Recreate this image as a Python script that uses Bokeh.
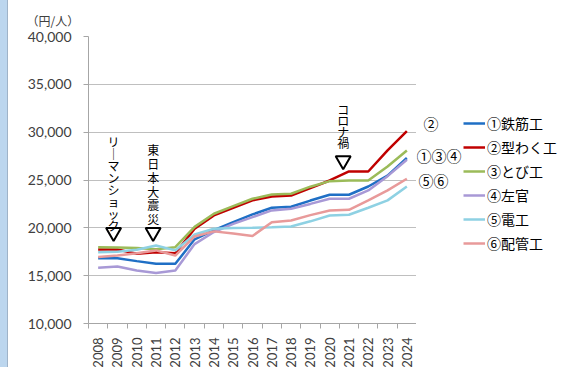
import math
from bokeh.plotting import figure
from bokeh.layouts import row
from bokeh.models import (Range1d, FixedTicker, Label, Legend, LegendItem,
                          NumeralTickFormatter, ColumnDataSource, Div)
from bokeh.embed import file_html
from bokeh.resources import INLINE

years = list(range(2008, 2025))

tekkin   = [16830, 16830, 16520, 16240, 16240, 18800, 19750, 20600, 21400, 22100, 22200, 22850, 23460, 23460, 24320, 25450, 27300]
katawaku = [17740, 17740, 17290, 17460, 17350, 19900, 21300, 22100, 22870, 23280, 23380, 24150, 24950, 25890, 25890, 28090, 30100]
tobi     = [17980, 17950, 17900, 17750, 17980, 20100, 21470, 22270, 23040, 23490, 23560, 24300, 24880, 24950, 24950, 26420, 28090]
sakan    = [15830, 15960, 15550, 15270, 15550, 18300, 19560, 20420, 21120, 21820, 22000, 22500, 23040, 23040, 23910, 25400, 27120]
denko    = [17460, 17500, 17700, 18160, 17640, 19300, 19900, 19970, 20010, 20070, 20140, 20680, 21290, 21370, 22100, 22870, 24320]
haikan   = [16950, 17100, 17350, 17640, 17100, 19100, 19630, 19400, 19150, 20590, 20770, 21330, 21820, 21890, 22870, 23910, 25130]

names  = ["①鉄筋工", "②型わく工", "③とび工", "④左官", "⑤電工", "⑥配管工"]
series = [tekkin, katawaku, tobi, sakan, denko, haikan]
colors = ["#1F6FC5", "#C00000", "#9BBB59", "#A899D6", "#8ED1E3", "#E89A9A"]

y_ticks = [10000, 15000, 20000, 25000, 30000, 35000, 40000]

events = ["リ｜マンショック", "東日本大震災", "コロナ禍"]
event_x = [2008.8, 2010.85, 2020.7]
event_text_top = [29950, 29050, 33300]
event_marker_y = [19520, 19520, 27040]
event_line_height = [0.71, 0.81, 0.66]

end_labels = ["②", "①③④", "⑤⑥"]
end_y = [30910, 27560, 24950]

JP = "Noto Sans CJK JP"
NUM = "Lato"

FRAME_H = 287
TOP, BOTTOM = 36, 44
STRIP = 8

p = figure(frame_width=328, frame_height=FRAME_H,
           min_border_left=88 - STRIP, min_border_right=0,
           min_border_top=TOP, min_border_bottom=BOTTOM,
           x_range=Range1d(2007.5, 2024.5), y_range=Range1d(10000, 40000),
           output_backend="svg", toolbar_location=None)
p.outline_line_color = None
p.border_fill_color = "white"

# unit label as title
p.title.text = "（円/人）"
p.title.align = "left"
p.title.offset = -62
p.title.standoff = 16
p.title.text_font = JP
p.title.text_font_size = "12px"
p.title.text_font_style = "normal"
p.title.text_color = "#404040"

# axes
p.yaxis.ticker = FixedTicker(ticks=y_ticks)
p.yaxis.formatter = NumeralTickFormatter(format="0,0")
p.yaxis.axis_line_color = "#A6A6A6"
p.yaxis.major_tick_line_color = "#A6A6A6"
p.yaxis.major_tick_out = 5
p.yaxis.major_tick_in = 0
p.yaxis.minor_tick_line_color = None
p.yaxis.major_label_standoff = 12
p.yaxis.major_label_text_font = NUM
p.yaxis.major_label_text_font_size = "14px"
p.yaxis.major_label_text_color = "#404040"

p.xaxis.ticker = FixedTicker(ticks=years, minor_ticks=[y - 0.5 for y in years] + [years[-1] + 0.5])
p.xaxis.major_label_overrides = {y: str(y) for y in years}
p.xaxis.major_label_orientation = math.pi / 2
p.xaxis.axis_line_color = "#A6A6A6"
p.xaxis.major_tick_line_color = None
p.xaxis.minor_tick_line_color = "#A6A6A6"
p.xaxis.minor_tick_out = 5
p.xaxis.minor_tick_in = 0
p.xaxis.major_label_standoff = 8
p.xaxis.major_label_text_font = NUM
p.xaxis.major_label_text_font_size = "13px"
p.xaxis.major_label_text_color = "#404040"

p.xgrid.grid_line_color = None
p.ygrid.ticker = FixedTicker(ticks=y_ticks)
p.ygrid.grid_line_color = "#BFBFBF"
p.ygrid.grid_line_width = 1

for vals, col in zip(series, colors):
    src = ColumnDataSource(dict(x=years, y=vals))
    p.line("x", "y", source=src, line_color=col, line_width=2.5)

# event annotations
for t, ex, ty, lh in zip(events, event_x, event_text_top, event_line_height):
    p.add_layout(Label(x=ex, y=ty, text="\n".join(list(t)), text_align="center",
                       text_baseline="top", text_font=JP, text_font_size="12px",
                       text_line_height=lh, text_color="#000000"))
p.scatter(event_x, event_marker_y, marker="inverted_triangle", size=15,
          fill_color="white", line_color="black", line_width=2)

# right side panel: end labels and legend
p2 = figure(frame_width=145, frame_height=FRAME_H,
            min_border_left=0, min_border_right=0,
            min_border_top=TOP, min_border_bottom=BOTTOM,
            x_range=Range1d(0, 145), y_range=Range1d(10000, 40000),
            output_backend="svg", toolbar_location=None)
p2.axis.visible = False
p2.grid.visible = False
p2.outline_line_color = None
p2.border_fill_color = "white"

end_x = [7, 0, 2]
for t, yv, xv in zip(end_labels, end_y, end_x):
    p2.add_layout(Label(x=xv, y=yv, text=t, text_align="left",
                        text_baseline="middle", text_font=JP, text_font_size="15px",
                        text_color="#000000"))

items = []
for name, col in zip(names, colors):
    # proxy renderer (outside the visible range) only used for the legend swatch
    r = p2.line(x=[-100, -90], y=[0, 0], line_color=col, line_width=2.5)
    items.append(LegendItem(label=name, renderers=[r]))

legend = Legend(items=items, location=(47, 70), orientation="vertical",
                label_text_font=JP, label_text_font_size="14px",
                label_text_color="#000000", glyph_width=22, glyph_height=20,
                label_height=20, spacing=4, label_standoff=2, padding=0,
                margin=0, border_line_color=None, background_fill_alpha=0)
p2.add_layout(legend, "center")

strip = Div(text="", width=STRIP, height=367, margin=0,
            styles={"background-color": "#BCD6EE", "border-right": "1px solid #9FB3C8",
                    "box-sizing": "border-box"})

layout = row(strip, p, p2, spacing=0)
open("out.html", "w").write(file_html(layout, INLINE))
